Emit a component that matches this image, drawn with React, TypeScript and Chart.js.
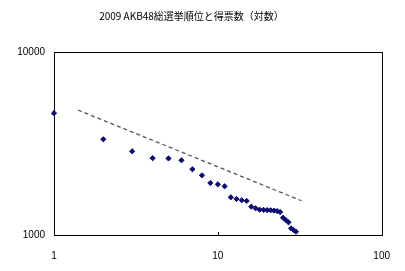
import React, { useEffect, useRef } from "react";
import { Chart, registerables } from "chart.js";

Chart.register(...registerables);

const TITLE = "2009 AKB48総選挙順位と得票数（対数）";
const ranks = Array.from({ length: 30 }, (_, i) => i + 1);
const votes = [
  4630, 3334, 2867, 2630, 2620, 2559, 2286, 2119, 1924, 1892,
  1846, 1607, 1574, 1548, 1535, 1428, 1400, 1375, 1372, 1368,
  1365, 1360, 1352, 1335, 1243, 1208, 1173, 1088, 1065, 1042,
];
const trendX = [1.4, 32.4];
const trendY = [4819, 1539];
const xTicks = [1, 10, 100];
const yTicks = [1000, 10000];

const framePlugin = {
  id: "frame",
  beforeDatasetsDraw(chart: any) {
    const { ctx, chartArea } = chart;
    const xs = chart.scales.x;
    ctx.save();
    ctx.strokeStyle = "#000";
    ctx.lineWidth = 1;
    ctx.strokeRect(
      Math.round(chartArea.left) + 0.5,
      Math.round(chartArea.top) + 0.5,
      Math.round(chartArea.right - chartArea.left),
      Math.round(chartArea.bottom - chartArea.top)
    );
    ctx.beginPath();
    for (const v of xTicks) {
      const px = Math.round(xs.getPixelForValue(v)) + 0.5;
      ctx.moveTo(px, chartArea.bottom);
      ctx.lineTo(px, chartArea.bottom - 3);
    }
    ctx.stroke();
    ctx.restore();
  },
};

export default function App() {
  const ref = useRef<HTMLCanvasElement>(null);
  useEffect(() => {
    if (!ref.current) return;
    const chart = new Chart(ref.current, {
      type: "scatter",
      data: {
        datasets: [
          {
            label: "得票数",
            data: ranks.map((r, i) => ({ x: r, y: votes[i] })),
            pointStyle: "rectRot",
            pointRadius: 2.6,
            backgroundColor: "#0a0a70",
            borderColor: "#0a0a70",
            borderWidth: 1,
            showLine: false,
            clip: false,
          },
          {
            label: "trend",
            data: trendX.map((x, i) => ({ x, y: trendY[i] })),
            showLine: true,
            pointRadius: 0,
            borderColor: "#555555",
            borderWidth: 1.3,
            borderDash: [4, 3],
          },
        ],
      },
      options: {
        responsive: false,
        animation: false,
        layout: { padding: { left: 0, right: 22, top: 0, bottom: 0 } },
        plugins: {
          legend: { display: false },
          tooltip: { enabled: false },
          title: {
            display: true,
            text: TITLE,
            color: "#000",
            font: { family: "'Noto Sans CJK JP', sans-serif", size: 10, weight: "normal" },
            padding: { top: 10, bottom: 30 },
          },
        },
        scales: {
          x: {
            type: "logarithmic",
            min: 1,
            max: 100,
            grid: { display: false, drawTicks: false },
            border: { display: false },
            afterBuildTicks: (s: any) => {
              s.ticks = xTicks.map((v) => ({ value: v }));
            },
            afterFit: (s: any) => {
              s.height = 36;
            },
            ticks: {
              color: "#000",
              padding: 15,
              maxRotation: 0,
              autoSkip: false,
              font: { family: "'Liberation Sans', Arial, sans-serif", size: 10 },
              callback: (v: any) => String(v),
            },
          },
          y: {
            type: "logarithmic",
            min: 1000,
            max: 10000,
            grid: { display: false, drawTicks: false },
            border: { display: false },
            afterBuildTicks: (s: any) => {
              s.ticks = yTicks.map((v) => ({ value: v }));
            },
            afterFit: (s: any) => {
              s.width = 54;
            },
            ticks: {
              color: "#000",
              padding: 9,
              autoSkip: false,
              font: { family: "'Liberation Sans', Arial, sans-serif", size: 10 },
              callback: (v: any) => String(v),
            },
          },
        },
      },
      plugins: [framePlugin],
    });
    return () => chart.destroy();
  }, []);
  return (
    <div style={{ position: "fixed", left: 0, top: 0, width: 405, height: 271, background: "#fff" }}>
      <canvas ref={ref} width={405} height={271} style={{ display: "block" }} />
    </div>
  );
}
